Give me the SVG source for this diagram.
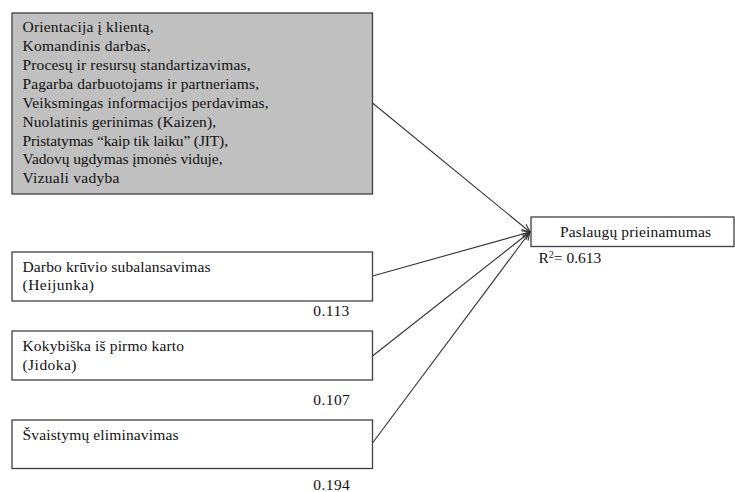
<svg xmlns="http://www.w3.org/2000/svg" width="735" height="492" viewBox="0 0 735 492">
  <style>
    .box { fill: #ffffff; stroke: #404040; stroke-width: 1.3; }
    .shaded { fill: #c0c0c0; }
    .t { font-family: "Liberation Serif", "Times New Roman", serif; font-size: 15.5px; fill: #111111; }
    .edge { stroke: #333333; stroke-width: 1.1; fill: none; marker-end: url(#arrow); }
  </style>
  <defs>
    <marker id="arrow" markerWidth="10" markerHeight="10" refX="9" refY="5" orient="auto" markerUnits="userSpaceOnUse">
      <path d="M1,1.5 L9,5 L1,8.5" fill="none" stroke="#333333" stroke-width="1.1"/>
    </marker>
  </defs>

  <g id="connectors">
    <line class="edge" x1="372.5" y1="103" x2="530" y2="232"/>
    <line class="edge" x1="372.5" y1="276" x2="530" y2="232"/>
    <line class="edge" x1="372.5" y1="356" x2="530" y2="232"/>
    <line class="edge" x1="372.5" y1="443" x2="530" y2="232"/>
  </g>

  <g id="lean-practices">
    <rect class="box shaded" x="12" y="13" width="360.5" height="181"/>
    <text class="t" x="22.5" y="32" textLength="131" lengthAdjust="spacing">Orientacija į klientą,</text>
    <text class="t" x="22.5" y="51" textLength="128" lengthAdjust="spacing">Komandinis darbas,</text>
    <text class="t" x="22.5" y="70" textLength="228" lengthAdjust="spacing">Procesų ir resursų standartizavimas,</text>
    <text class="t" x="22.5" y="89" textLength="236.5" lengthAdjust="spacing">Pagarba darbuotojams ir partneriams,</text>
    <text class="t" x="22.5" y="107.5" textLength="246" lengthAdjust="spacing">Veiksmingas informacijos perdavimas,</text>
    <text class="t" x="22.5" y="126.5" textLength="193.5" lengthAdjust="spacing">Nuolatinis gerinimas (Kaizen),</text>
    <text class="t" x="22.5" y="145.5" textLength="205.5" lengthAdjust="spacing">Pristatymas “kaip tik laiku” (JIT),</text>
    <text class="t" x="22.5" y="164" textLength="200" lengthAdjust="spacing">Vadovų ugdymas įmonės viduje,</text>
    <text class="t" x="22.5" y="183" textLength="97" lengthAdjust="spacing">Vizuali vadyba</text>
  </g>

  <g id="heijunka">
    <rect class="box" x="12" y="252" width="360.5" height="49"/>
    <text class="t" x="22.5" y="272" textLength="188" lengthAdjust="spacing">Darbo krūvio subalansavimas</text>
    <text class="t" x="22.5" y="290" textLength="71.5" lengthAdjust="spacing">(Heijunka)</text>
    <text class="t" x="313.3" y="316" textLength="36" lengthAdjust="spacing">0.113</text>
  </g>

  <g id="jidoka">
    <rect class="box" x="12" y="331" width="360.5" height="49"/>
    <text class="t" x="22.5" y="351" textLength="161.5" lengthAdjust="spacing">Kokybiška iš pirmo karto</text>
    <text class="t" x="22.5" y="370" textLength="54" lengthAdjust="spacing">(Jidoka)</text>
    <text class="t" x="313.3" y="404.5" textLength="36.5" lengthAdjust="spacing">0.107</text>
  </g>

  <g id="waste-elimination">
    <rect class="box" x="12" y="420" width="360.5" height="48.5"/>
    <text class="t" x="22.5" y="439.5" textLength="156" lengthAdjust="spacing">Švaistymų eliminavimas</text>
    <text class="t" x="313.3" y="490" textLength="36.5" lengthAdjust="spacing">0.194</text>
  </g>

  <g id="service-accessibility">
    <rect class="box" x="531" y="217" width="203" height="29.5"/>
    <text class="t" x="560" y="237" textLength="151" lengthAdjust="spacing">Paslaugų prieinamumas</text>
    <text class="t" x="538.5" y="263">R<tspan font-size="10" dy="-5.5">2</tspan><tspan dy="5.5">= 0.613</tspan></text>
  </g>
</svg>
